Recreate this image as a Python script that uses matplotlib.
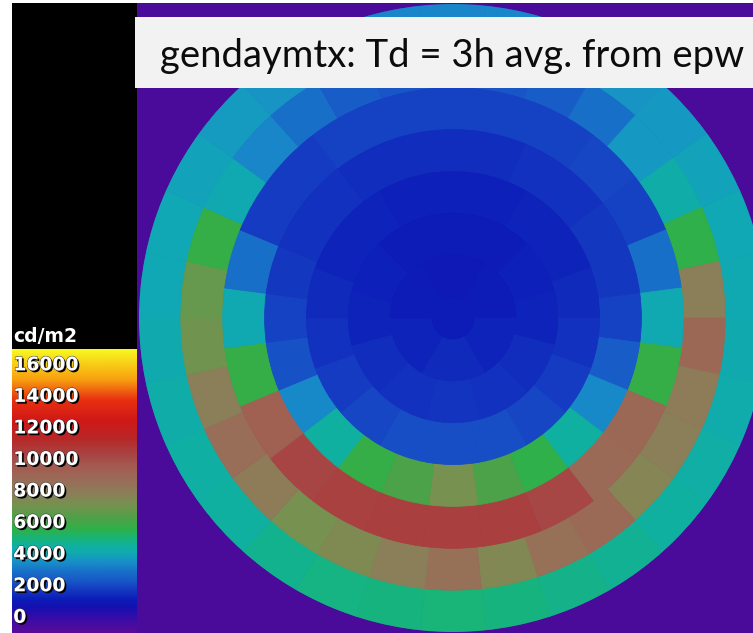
import numpy as np
import matplotlib
matplotlib.use("Agg")
import matplotlib.pyplot as plt
from matplotlib.colors import LinearSegmentedColormap, Normalize
from matplotlib.patches import Rectangle
import matplotlib.patheffects as pe

# ---------------------------------------------------------------
# Sky luminance per Tregenza patch (cd/m2), each ring listed
# clockwise starting at north (top of the fisheye view).
# ---------------------------------------------------------------
ring0_alt0_12 = [4300, 4300, 4400, 4600, 4700, 4900, 5000, 5100, 5150, 5250,
                 5400, 5500, 5650, 5800, 5950, 6000, 5950, 5850, 5700, 5550,
                 5450, 5300, 5150, 5050, 5000, 4900, 4750, 4600, 4400, 4300]
ring1_alt12_24 = [3300, 3300, 3400, 3900, 4700, 5300, 6600, 8800, 9900, 9000,
                  8800, 8600, 9800, 9500, 8500, 9500, 8800, 8400, 8100, 9000,
                  9600, 8800, 8000, 7800, 6700, 5100, 4300, 3900, 3400, 3300]
ring2_alt24_36 = [2950, 2900, 2950, 3000, 2950, 3900, 5100, 6700, 9900, 9800,
                  11200, 11500, 11500, 11500, 11400, 11300, 10200, 6700, 5100,
                  3900, 2800, 2800, 2900, 2950]
ring3_alt36_48 = [2500, 2500, 2550, 2600, 2700, 2700, 2900, 3400, 4400, 5500,
                  6600, 7200, 8100, 7200, 6700, 5500, 4400, 3200, 2900, 2700,
                  2600, 2550, 2500, 2500]
ring4_alt48_60 = [2200, 2200, 2250, 2300, 2400, 2600, 2800, 3000, 3100, 3150,
                  3100, 3000, 2800, 2600, 2400, 2300, 2250, 2200]
ring5_alt60_72 = [2100, 2100, 2200, 2300, 2500, 2600, 2650, 2600, 2500, 2300,
                  2200, 2100]
ring6_alt72_84 = [2000, 2100, 2300, 2400, 2300, 2100]
zenith_cap = 2100

rings = [ring0_alt0_12, ring1_alt12_24, ring2_alt24_36, ring3_alt36_48,
         ring4_alt48_60, ring5_alt60_72, ring6_alt72_84]
band_height = 12.0          # degrees of altitude per ring

legend_max = 18000
legend_labels = [0, 2000, 4000, 6000, 8000, 10000, 12000, 14000, 16000]
unit_label = "cd/m2"
title = "gendaymtx: Td = 3h avg. from epw"

# falsecolor-style palette
palette = [
    (0, "#5a0c98"), (900, "#380ca8"), (1600, "#1410b0"), (2100, "#0c1cb8"),
    (2700, "#1438c0"), (3300, "#1858c8"), (3900, "#1870c8"), (4500, "#1890c8"),
    (5000, "#10a8b4"), (5500, "#10b0a0"), (6000, "#18b478"), (6600, "#30b048"),
    (7300, "#50a048"), (8100, "#769250"), (8800, "#8a8058"), (9700, "#9a6c58"),
    (10600, "#a45a50"), (11400, "#a84242"), (12300, "#b82828"),
    (13500, "#d01818"), (14800, "#e83010"), (16100, "#f8a010"),
    (18000, "#f8f820"),
]
cmap = LinearSegmentedColormap.from_list(
    "falsecolor", [(v / legend_max, c) for v, c in palette])
norm = Normalize(0, legend_max)

W, H = 753, 633
fig = plt.figure(figsize=(W / 100, H / 100), dpi=100, facecolor="white")


def fx(px):
    return px / W


def fy(py):
    return 1 - py / H


# black legend strip and the zero-valued picture background
fig.add_artist(Rectangle((fx(12), 0), fx(137) - fx(12), fy(3),
                         transform=fig.transFigure, facecolor="black",
                         edgecolor="none", zorder=-2))
fig.add_artist(Rectangle((fx(137), 0), 1 - fx(137), fy(3),
                         transform=fig.transFigure, facecolor="#4a0a9a",
                         edgecolor="none", zorder=-2))

# angular fisheye of the sky dome
cx, cy, R = 453, 318, 314
ax = fig.add_axes([fx(cx - R), (H - cy - R) / H, 2 * R / W, 2 * R / H],
                  projection="polar")
ax.set_theta_zero_location("N")
ax.set_theta_direction(-1)
ax.set_ylim(0, 90)
ax.set_axis_off()

for i, vals in enumerate(rings):
    n = len(vals)
    step = 2 * np.pi / n
    theta = np.arange(n) * step
    cols = cmap(norm(np.asarray(vals)))
    inner = 90 - band_height * (i + 1)
    ax.bar(theta, band_height, width=step, bottom=inner, color=cols,
           edgecolor=cols, linewidth=0.6, align="center")
zc = cmap(norm(zenith_cap))
ax.bar(0, 90 - band_height * len(rings), width=2 * np.pi, bottom=0,
       color=zc, edgecolor=zc, linewidth=0.6)

# colour legend
lax = fig.add_axes([fx(12), 0, fx(137) - fx(12), (633 - 349) / H])
grad = np.linspace(0, legend_max, 512)[:, None]
lax.imshow(grad, cmap=cmap, norm=norm, origin="lower", aspect="auto",
           extent=[0, 1, 0, legend_max], interpolation="bilinear")
lax.set_xlim(0, 1)
lax.set_ylim(0, legend_max)
lax.set_axis_off()
shadow = [pe.SimplePatchShadow(offset=(1.3, -1.3), shadow_rgbFace="black",
                               alpha=1.0),
          pe.Stroke(linewidth=0.7, foreground="#303030"), pe.Normal()]
for v in legend_labels:
    lax.text(0.01, v + 1000, str(v), color="white", fontsize=13.5,
             family="DejaVu Sans", weight="bold", va="center", ha="left",
             path_effects=shadow)
fig.text(fx(13), fy(336), unit_label, color="white", fontsize=13.5,
         family="DejaVu Sans", weight="bold", va="center", ha="left")

# title banner
fig.add_artist(Rectangle((fx(135), fy(88)), 1 - fx(135), (88 - 17) / H,
                         transform=fig.transFigure, facecolor="#f2f2f2",
                         edgecolor="none", zorder=5))
t = fig.text(fx(160), fy(67), title, fontsize=27, family="Lato",
             weight="normal", color="#0c0c0c", va="baseline", ha="left",
             zorder=6)
fig.canvas.draw()
bb = t.get_window_extent()
t.set_fontsize(27 * 585 / bb.width)

fig.savefig("out.png", dpi=100, facecolor="white")
